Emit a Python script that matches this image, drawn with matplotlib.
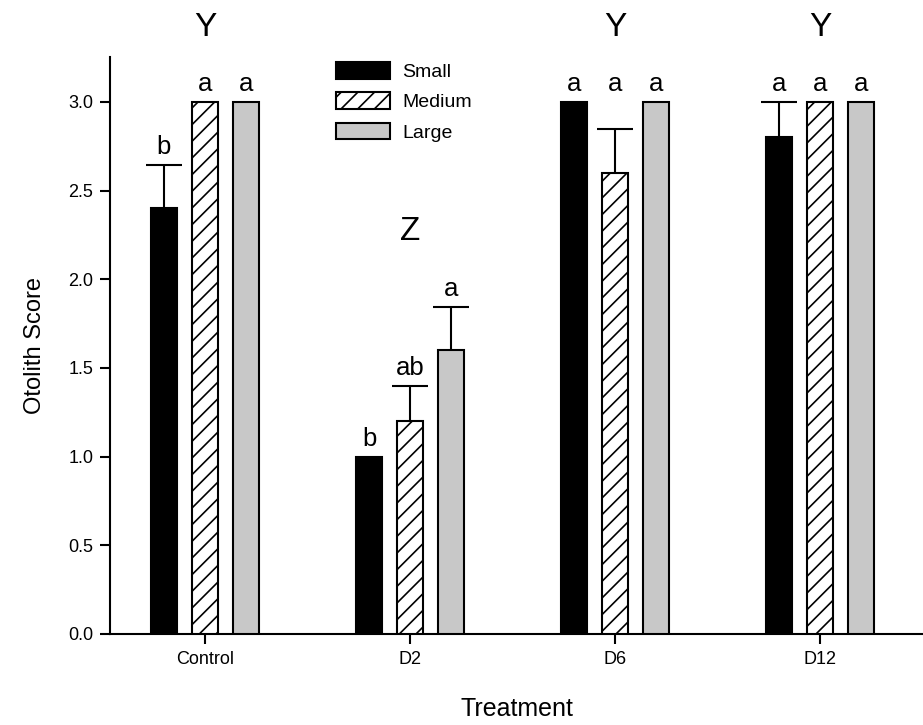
import matplotlib
matplotlib.use("Agg")
import matplotlib.pyplot as plt
import numpy as np

plt.rcParams['font.family'] = ['Liberation Sans', 'DejaVu Sans']
plt.rcParams['hatch.linewidth'] = 1.2

treatments = ["Control", "D2", "D6", "D12"]
sizes = ["Small", "Medium", "Large"]
small = [2.4, 1.0, 3.0, 2.8]
medium = [3.0, 1.2, 2.6, 3.0]
large = [3.0, 1.6, 3.0, 3.0]
small_err = [0.245, 0.0, 0.0, 0.2]
medium_err = [0.0, 0.2, 0.245, 0.0]
large_err = [0.0, 0.245, 0.0, 0.0]
small_letters = ["b", "b", "a", "a"]
medium_letters = ["a", "ab", "a", "a"]
large_letters = ["a", "a", "a", "a"]
# height above which each letter sits
small_letter_y = [2.645, 1.0, 3.0, 3.0]
medium_letter_y = [3.0, 1.4, 3.0, 3.0]
large_letter_y = [3.0, 1.845, 3.0, 3.0]
group_letters = ["Y", "Z", "Y", "Y"]
group_letter_y = [3.42, 2.27, 3.42, 3.42]

fig = plt.figure(figsize=(9.23, 7.25), dpi=100)
ax = fig.add_axes([110/923, 91/725, 1 - 110/923, (634 - 56.7)/725])

x = np.arange(len(treatments))
offset = 0.2
width = 0.127
styles = [
    dict(color="black", edgecolor="black", hatch=None),
    dict(color="white", edgecolor="black", hatch="//"),
    dict(color="#c8c8c8", edgecolor="black", hatch=None),
]
series = [small, medium, large]
errs = [small_err, medium_err, large_err]
letters = [small_letters, medium_letters, large_letters]
letter_ys = [small_letter_y, medium_letter_y, large_letter_y]
handles = []
for i, (vals, err, lets, lys, st) in enumerate(zip(series, errs, letters, letter_ys, styles)):
    xi = x + (i - 1) * offset
    b = ax.bar(xi, vals, width, color=st["color"], edgecolor=st["edgecolor"],
               hatch=st["hatch"], linewidth=1.5, label=sizes[i], zorder=3)
    handles.append(b)
    for xx, v, e, l, ly in zip(xi, vals, err, lets, lys):
        if e > 0:
            _, caps, _ = ax.errorbar(xx, v, yerr=[[0], [e]], fmt='none', ecolor='black',
                                     elinewidth=1.5, capsize=13, capthick=1.5, zorder=2)
            caps[0].set_visible(False)
        ax.annotate(l, (xx, ly), xytext=(0, 8), textcoords='offset points',
                    ha='center', va='baseline', fontsize=18.5)

for xx, l, yy in zip(x, group_letters, group_letter_y):
    ax.text(xx, yy, l, ha='center', va='center', fontsize=24, clip_on=False)

ax.set_xlim(-0.463, 3.5)
ax.set_ylim(0, 3.255)
ax.set_xticks(x)
ax.set_xticklabels(treatments, fontsize=13)
ax.set_yticks(np.arange(0, 3.01, 0.5))
ax.set_yticklabels([f"{v:.1f}" for v in np.arange(0, 3.01, 0.5)], fontsize=13)
ax.tick_params(direction='out', length=7, width=1.5, pad=5)
for s in ['top', 'right']:
    ax.spines[s].set_visible(False)
for s in ['left', 'bottom']:
    ax.spines[s].set_linewidth(1.5)
ax.set_xlabel("Treatment", fontsize=18, labelpad=21)
ax.set_ylabel("Otolith Score", fontsize=17, labelpad=16)

ax.legend(handles=handles, labels=sizes, loc='upper left',
          bbox_to_anchor=(336/923, 1 - 62/725), bbox_transform=fig.transFigure,
          frameon=False, fontsize=14, handlelength=2.8, handleheight=0.95,
          handletextpad=0.6, labelspacing=0.58, borderpad=0, borderaxespad=0)

fig.savefig("out.png", dpi=100)
